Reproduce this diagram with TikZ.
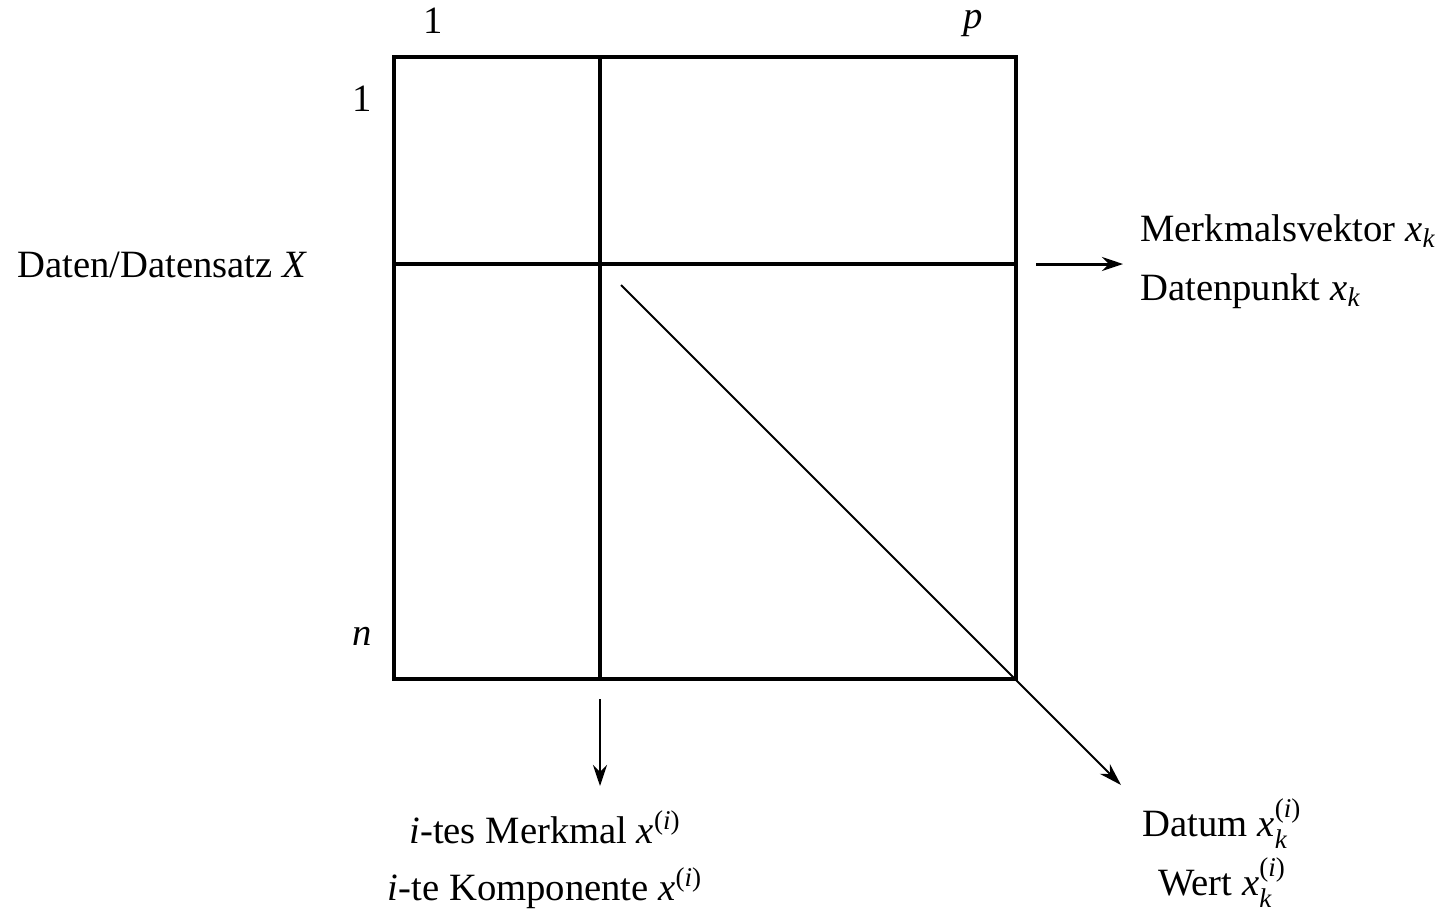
\documentclass[tikz,border=0pt]{standalone}
\usepackage{amsmath}
\usepackage{fontspec}
\setmainfont{Liberation Serif}
\usetikzlibrary{arrows.meta}
\newcommand{\vi}[1]{\textit{#1}}
\newcommand{\pvi}{\text{(}\vi{i}\text{)}}
\begin{document}
\begin{tikzpicture}[x=0.02cm,y=-0.02cm,
  lbl/.style={inner sep=0pt,font=\fontsize{22}{26}\selectfont},
  thick box/.style={line width=2.1pt},
  arr/.style={line width=1.7pt,-{Stealth[length=12pt,width=8pt]}},
  diag/.style={line width=1.1pt,-{Stealth[length=13pt,width=8pt]}}]
\useasboundingbox (0,0) rectangle (1444,914);
% matrix frame
\coordinate (tl) at (394,57);
\coordinate (br) at (1016,679);
\draw[thick box] (tl) rectangle (br);
\coordinate (vt) at (600,57);
\coordinate (vb) at (600,679);
\coordinate (hl) at (394,264);
\coordinate (hr) at (1016,264);
\draw[thick box] (vt) -- (vb);
\draw[thick box] (hl) -- (hr);
% labels
\node[lbl,anchor=base] (c1) at (433,33) {1};
\node[lbl,anchor=base] (cp) at (973,28) {\vi{p}};
\node[lbl,anchor=base] (r1) at (362,111) {1};
\node[lbl,anchor=base] (rn) at (362,645) {\vi{n}};
\node[lbl,anchor=base west] (data) at (17,277) {Daten/Datensatz \vi{X}};
\node[lbl,anchor=base west] (mv) at (1140,241) {Merkmalsvektor $\vi{x}_{\vi{k}}$};
\node[lbl,anchor=base west] (dp) at (1140,300) {Datenpunkt $\vi{x}_{\vi{k}}$};
\node[lbl,anchor=base] (im) at (545,843) {\vi{i}-tes Merkmal $\vi{x}^{\pvi}$};
\node[lbl,anchor=base] (ik) at (545,900) {\vi{i}-te Komponente $\vi{x}^{\pvi}$};
\node[lbl,anchor=base] (dt) at (1222,836) {Datum $\vi{x}_{\vi{k}}^{\pvi}$};
\node[lbl,anchor=base] (wt) at (1222,895) {Wert $\vi{x}_{\vi{k}}^{\pvi}$};
% arrows
\coordinate (ra) at (1036,264);
\coordinate (rb) at (1123,264);
\draw[arr] (ra) -- (rb);
\coordinate (da) at (600,699);
\coordinate (db) at (600,786);
\draw[arr] (da) -- (db);
\coordinate (ga) at (621,285);
\coordinate (gb) at (1121,785);
\draw[diag] (ga) -- (gb);
\end{tikzpicture}
\end{document}
